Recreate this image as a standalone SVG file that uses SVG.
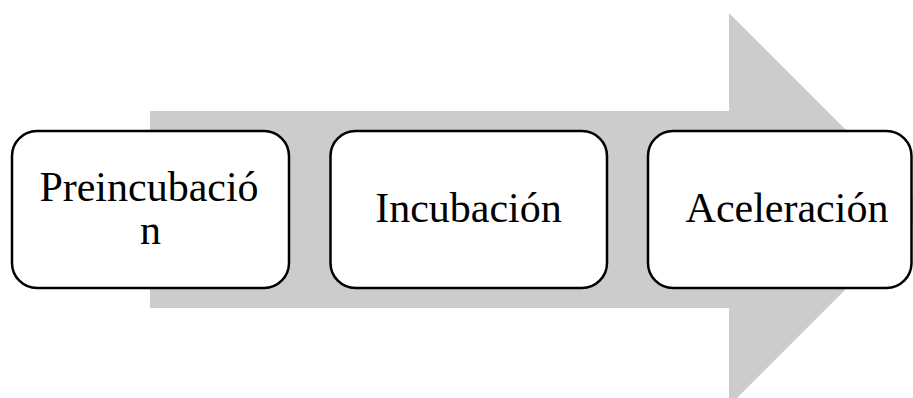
<svg xmlns="http://www.w3.org/2000/svg" width="913" height="398" viewBox="0 0 913 398">
<style>
.box{fill:#ffffff;stroke:#000000;stroke-width:2.5}
.lbl{font-family:"Liberation Serif","Times New Roman",serif;font-size:42px;fill:#000000;text-anchor:middle}
</style>
<rect width="913" height="398" fill="#ffffff"/>
<g id="connectors">
<polygon points="150,111 729,111 729,13 925.5,209.5 729,406 729,308 150,308" fill="#cccccc"/>
</g>
<g id="node-preincubacion">
<rect class="box" x="12" y="131" width="277" height="157" rx="25" ry="25"/>
<text class="lbl" x="149" y="201">Preincubació</text>
<text class="lbl" x="150.5" y="244">n</text>
</g>
<g id="node-incubacion">
<rect class="box" x="330.5" y="131" width="276.5" height="157" rx="25" ry="25"/>
<text class="lbl" x="468.5" y="222">Incubación</text>
</g>
<g id="node-aceleracion">
<rect class="box" x="648" y="131" width="263.5" height="157" rx="25" ry="25"/>
<text class="lbl" x="787" y="222">Aceleración</text>
</g>
</svg>
